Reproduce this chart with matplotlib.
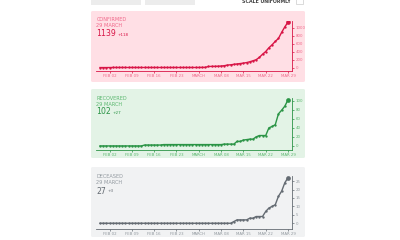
import matplotlib
matplotlib.use("Agg")
import matplotlib.pyplot as plt
from matplotlib.patches import FancyBboxPatch, Rectangle

W, H = 400, 240

tick_idx = [3, 10, 17, 24, 31, 38, 45, 52, 59]
tick_labels = ["FEB 02", "FEB 09", "FEB 16", "FEB 23", "MARCH", "MAR 08", "MAR 15", "MAR 22", "MAR 29"]

confirmed = [1, 1, 1, 2, 3] + [3] * 27 + [5, 6, 28, 30, 31, 34, 39, 48, 63, 71, 81, 91, 102, 112,
             126, 146, 171, 198, 256, 334, 403, 497, 571, 657, 730, 883, 1021, 1139]
recovered = [0] * 14 + [2] * 6 + [3] * 19 + [4] * 4 + [10, 10, 13, 14, 15, 15, 20, 23, 23, 23,
             40, 43, 47, 71, 79, 88, 102]
deceased = [0] * 42 + [1, 2, 2, 2, 2, 3, 3, 4, 4, 4, 7, 9, 10, 11, 16, 19, 24, 27]

panels = [
    dict(name="CONFIRMED", values=confirmed, total="1139", delta="+118",
         color="#d81546", bg="#ffdfe5", txt="#f0688a",
         box=(91, 11, 305, 82), ax=(96, 20.5, 292, 71), ylim=(-85, 1180),
         yticks=[0, 200, 400, 600, 800, 1000],
         ty=(19.7, 25.5, 34)),
    dict(name="RECOVERED", values=recovered, total="102", delta="+27",
         color="#2b9446", bg="#e3f3e6", txt="#5cb870",
         box=(91, 89, 305, 158), ax=(96, 98, 292, 150), ylim=(-9, 106),
         yticks=[0, 20, 40, 60, 80, 100],
         ty=(98, 104, 112)),
    dict(name="DECEASED", values=deceased, total="27", delta="+3",
         color="#646b72", bg="#f1f2f3", txt="#939aa0",
         box=(91, 167, 305, 237), ax=(96, 176, 292, 229), ylim=(-3.4, 28),
         yticks=[0, 5, 10, 15, 20, 25],
         ty=(176.3, 182.3, 191)),
]

fig = plt.figure(figsize=(W / 100, H / 100), dpi=100)
fig.patch.set_facecolor("white")
renderer = fig.canvas.get_renderer()


def fx(x):
    return x / W


def fy(y):
    return 1 - y / H


# top controls
for x0, x1 in [(91, 141), (145, 195)]:
    fig.patches.append(Rectangle((fx(x0), fy(4.5)), fx(x1) - fx(x0), 4.5 / H,
                                 transform=fig.transFigure, facecolor="#ececec",
                                 edgecolor="none", zorder=0))
fig.text(fx(266), fy(1.2), "SCALE UNIFORMLY", fontsize=3.4, fontweight="bold",
         color="#444444", ha="center", va="center")
fig.patches.append(Rectangle((fx(296), fy(4)), 7 / W, 5 / H, transform=fig.transFigure,
                             facecolor="white", edgecolor="#cccccc", linewidth=0.5, zorder=0))

for p in panels:
    bx0, by0, bx1, by1 = p["box"]
    fig.patches.append(FancyBboxPatch((fx(bx0), fy(by1)), fx(bx1) - fx(bx0), (by1 - by0) / H,
                                      boxstyle="round,pad=0,rounding_size=0.005",
                                      transform=fig.transFigure, facecolor=p["bg"],
                                      edgecolor="none", zorder=0))
    ax0, ay0, ax1, ay1 = p["ax"]
    ax = fig.add_axes([fx(ax0), fy(ay1), fx(ax1) - fx(ax0), (ay1 - ay0) / H])
    ax.set_zorder(3)
    ax.set_facecolor("none")
    n = len(p["values"])
    xs = list(range(n))
    ax.plot(xs, p["values"], color=p["color"], linewidth=1.0, marker="o",
            markersize=1.7, markeredgewidth=0)
    ax.plot([xs[-1]], [p["values"][-1]], marker="o", markersize=3.4,
            color=p["color"], markeredgewidth=0)
    ax.set_xlim(-1.25, 60.25)
    ax.set_ylim(*p["ylim"])
    for s in ["top", "left"]:
        ax.spines[s].set_visible(False)
    for s in ["bottom", "right"]:
        ax.spines[s].set_color(p["color"])
        ax.spines[s].set_linewidth(0.6)
    ax.yaxis.tick_right()
    ax.set_yticks(p["yticks"])
    ax.set_yticklabels([str(v) for v in p["yticks"]])
    ax.set_xticks(tick_idx)
    ax.set_xticklabels(tick_labels)
    ax.tick_params(axis="both", labelsize=2.8, length=1.5, width=0.5, pad=1,
                   colors=p["color"], labelcolor=p["txt"])
    t1, t2, t3 = p["ty"]
    fig.text(fx(96.3), fy(t1), p["name"], fontsize=3.6, color=p["txt"], va="center")
    fig.text(fx(96.3), fy(t2), "29 MARCH", fontsize=3.6, color=p["txt"], va="center")
    tt = fig.text(fx(96.3), fy(t3), p["total"], fontsize=5.6, color=p["color"], va="center")
    bb = tt.get_window_extent(renderer=renderer)
    fig.text(fx(bb.x1 + 2.0), fy(t3 + 0.5), p["delta"], fontsize=3.0, color=p["color"],
             va="center")

fig.savefig("out.png", dpi=100, facecolor="white")
